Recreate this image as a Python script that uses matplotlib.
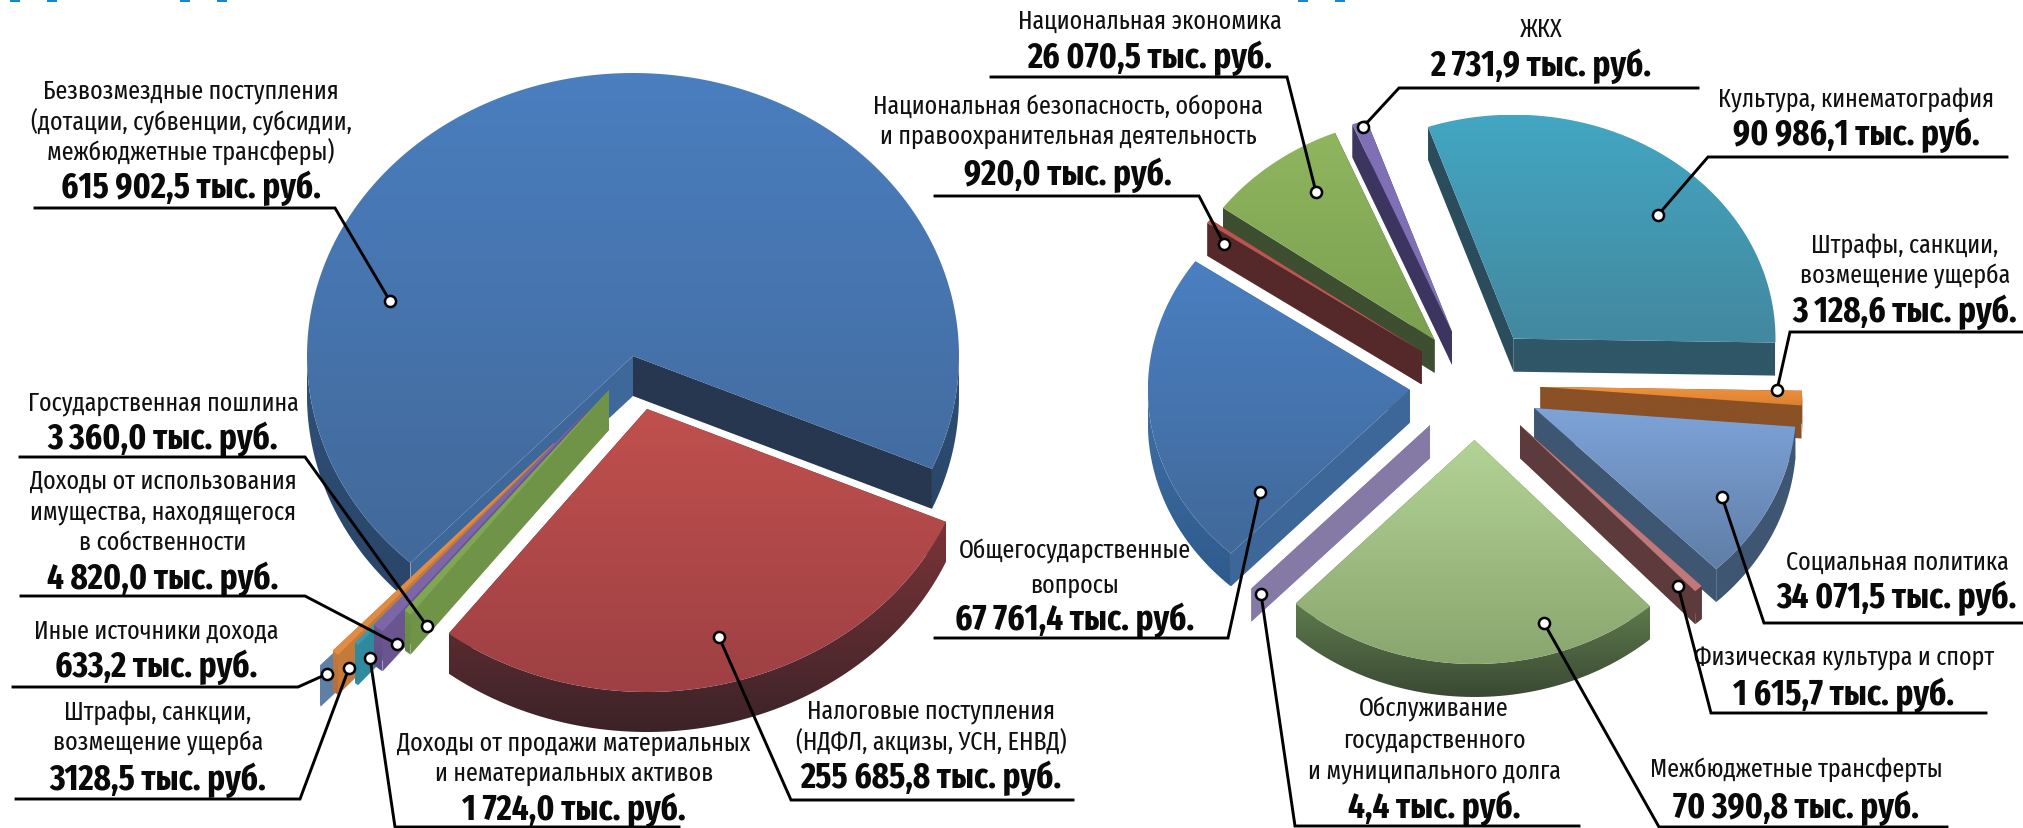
import numpy as np
import matplotlib
matplotlib.use("Agg")
import matplotlib.pyplot as plt
from matplotlib.colors import LinearSegmentedColormap
from matplotlib.patches import Polygon, Rectangle

plt.rcParams["font.family"] = ["Fira Sans Extra Condensed", "PT Sans Narrow", "Roboto", "DejaVu Sans"]

# income pie, counter-clockwise from the big blue slice
income_names = [
    "Безвозмездные поступления\n(дотации, субвенции, субсидии,\nмежбюджетные трансферы)",
    "Иные источники дохода",
    "Штрафы, санкции,\nвозмещение ущерба",
    "Доходы от продажи материальных\nи нематериальных активов",
    "Доходы от использования\nимущества, находящегося\nв собственности",
    "Государственная пошлина",
    "Налоговые поступления\n(НДФЛ, акцизы, УСН, ЕНВД)",
]
income_values = [615902.5, 633.2, 3128.5, 1724.0, 4820.0, 3360.0, 255685.8]
income_labels = [
    "615 902,5 тыс. руб.", "633,2 тыс. руб.", "3128,5 тыс. руб.", "1 724,0 тыс. руб.",
    "4 820,0 тыс. руб.", "3 360,0 тыс. руб.", "255 685,8 тыс. руб.",
]

# expense pie, counter-clockwise from the teal slice
expense_names = [
    "Культура, кинематография",
    "ЖКХ",
    "Национальная экономика",
    "Национальная безопасность, оборона\nи правоохранительная деятельность",
    "Общегосударственные\nвопросы",
    "Обслуживание\nгосударственного\nи муниципального долга",
    "Межбюджетные трансферты",
    "Физическая культура и спорт",
    "Социальная политика",
    "Штрафы, санкции,\nвозмещение ущерба",
]
expense_values = [90986.1, 2731.9, 26070.5, 920.0, 67761.4, 4.4, 70390.8, 1615.7, 34071.5, 3128.6]
expense_labels = [
    "90 986,1 тыс. руб.", "2 731,9 тыс. руб.", "26 070,5 тыс. руб.", "920,0 тыс. руб.",
    "67 761,4 тыс. руб.", "4,4 тыс. руб.", "70 390,8 тыс. руб.", "1 615,7 тыс. руб.",
    "34 071,5 тыс. руб.", "3 128,6 тыс. руб.",
]

# pie geometry in pixels of the 2023x829 picture
LEFT = dict(cx=633, cy=357, rx=326, ry=283, depth=40, start=-23.5)
RIGHT = dict(cx=1475, cy=385, rx=262, ry=224, depth=33, start=-1)
# the left pie pulls each slice out by its own amount, the right one evenly
left_explode = [(0, 0), (-91, 103), (-79, 87), (-62, 75), (-46, 55), (-24, 34), (14, 53)]
right_explode = [0.25] * 10
left_order = [0, 1, 2, 3, 4, 5, 6]
right_order = [0, 1, 2, 3, 4, 9, 8, 5, 7, 6]

# face top, face bottom, wall at start edge, wall at end edge, arc top, arc bottom
left_style = [
    ("#4a7ebf", "#42699a", "#26374f", "#3d6899", "#2f5079", "#2a4568"),
    ("#6a86ab", "#6a86ab", "#5f7fa6", "#5f7fa6", "#5f7fa6", "#5f7fa6"),
    ("#e08c45", "#e08c45", "#c47a3a", "#c47a3a", "#c47a3a", "#b56f34"),
    ("#3b9ab2", "#3b9ab2", "#2f8a9e", "#2f8a9e", "#2f8a9e", "#2f8a9e"),
    ("#7b66a8", "#7b66a8", "#6a5591", "#6a5591", "#6a5591", "#5f4c85"),
    ("#7fa653", "#7fa653", "#6f9447", "#6f9447", "#6f9447", "#668a42"),
    ("#c0504d", "#9e4044", "#5c2c2f", "#5c2c2f", "#7a3438", "#3c2328"),
]
right_style = [
    ("#43a6c2", "#42889f", "#2f5767", "#2b4c5c", "#2b4c5c", "#2b4c5c"),
    ("#7f6fb5", "#7f6fb5", "#3c3560", "#3c3560", "#3c3560", "#3c3560"),
    ("#8fb55f", "#7ba050", "#3e4e30", "#3e4e30", "#3e4e30", "#3e4e30"),
    ("#b95350", "#c0605c", "#55282a", "#55282a", "#55282a", "#55282a"),
    ("#4a7fc1", "#41699a", "#3c6798", "#3c6798", "#3f70a5", "#2f5a8c"),
    ("#8b80a8", "#8b80a8", "#857aa5", "#857aa5", "#857aa5", "#857aa5"),
    ("#b2d395", "#8aa66f", "#5d7a4e", "#5d7a4e", "#5f7a4d", "#3a4a33"),
    ("#c0787a", "#c0787a", "#5d3a3c", "#5d3a3c", "#5d3a3c", "#5d3a3c"),
    ("#7ea3d8", "#5f7ea7", "#3f5673", "#3f5673", "#3f5673", "#3f5673"),
    ("#f0913f", "#d9812f", "#8a5026", "#8a5026", "#8a5026", "#8a5026"),
]

# text centre x, y of each name line, y of the value, underline (x0, x1, y),
# leader end (x, y) on the slice, same order as the data
left_text = [
    (191, [92, 122, 152], 188, (35, 335, 209), (390, 302)),
    (156, [632], 667, (13, 298, 688), (327, 675)),
    (158, [713, 744], 780, (16, 300, 800), (349, 669)),
    (574, [744, 774], 810, (679, 395, 828), (370, 659)),
    (163, [482, 513, 543], 579, (21, 305, 597), (397, 645)),
    (163, [404], 439, (20, 305, 458), (427, 627)),
    (931, [712, 743], 778, (1073, 791, 801), (719, 638)),
]
right_text = [
    (1856, [100], 135, (2007, 1708, 158), (1658, 216)),
    (1541, [30], 66, (1698, 1399, 89), (1363, 128)),
    (1150, [22], 58, (991, 1287, 78), (1316, 193)),
    (1068, [107, 137], 175, (935, 1199, 197), (1224, 245)),
    (1075, [552, 586], 620, (935, 1228, 639), (1260, 493)),
    (1434, [710, 741, 772], 808, (1579, 1295, 827), (1261, 595)),
    (1796, [770], 808, (1947, 1659, 828), (1544, 624)),
    (1844, [659], 695, (1986, 1711, 714), (1678, 587)),
    (1897, [563], 598, (2023, 1764, 624), (1722, 498)),
    (1905, [246, 276], 312, (2023, 1790, 333), (1777, 391)),
]

fig = plt.figure(figsize=(20.23, 8.29), dpi=100)
ax = fig.add_axes([0, 0, 1, 1])
ax.set_xlim(0, 2023)
ax.set_ylim(829, 0)
ax.axis("off")


def fill_grad(points, top, bottom, z):
    points = np.asarray(points)
    x0, x1 = points[:, 0].min(), points[:, 0].max()
    y0, y1 = points[:, 1].min(), points[:, 1].max()
    if y1 - y0 < 0.01:
        return
    cmap = LinearSegmentedColormap.from_list("g", [top, bottom])
    grad = np.linspace(0, 1, 64).reshape(-1, 1)
    im = ax.imshow(grad, cmap=cmap, extent=(x0, x1, y1, y0), aspect="auto", zorder=z,
                   interpolation="bilinear")
    poly = Polygon(points, closed=True, facecolor="none", edgecolor="none", transform=ax.transData)
    ax.add_patch(poly)
    im.set_clip_path(poly)


def draw_pie(values, geo, explode, order, styles):
    values = np.array(values)
    sweeps = values / values.sum() * 360
    ends = geo["start"] + np.cumsum(sweeps)
    starts = ends - sweeps
    rx, ry, d = geo["rx"], geo["ry"], geo["depth"]

    def rim(t):
        t = np.radians(t)
        return np.column_stack([rx * np.cos(t), -ry * np.sin(t)])

    z = 2
    for i in order:
        t0, t1 = starts[i], ends[i]
        if isinstance(explode[i], tuple):
            pull = np.array(explode[i], dtype=float)
        else:
            pull = explode[i] * rim([(t0 + t1) / 2])[0]
        apex = np.array([geo["cx"], geo["cy"]]) + pull
        face_top, face_bot, wall0, wall1, arc_top, arc_bot = styles[i]
        down = np.array([0, d])

        for t, col in ((t0, wall0), (t1, wall1)):
            p = apex + rim([t])[0]
            fill_grad([apex, p, p + down, apex + down], col, col, z)
            z += 0.01

        # outer wall only where the rim faces the viewer
        for k in (-1, 0, 1):
            a = max(t0, 180 + 360 * k)
            b = min(t1, 360 + 360 * k)
            if b > a:
                arc = apex + rim(np.linspace(a, b, 80))
                fill_grad(np.vstack([arc, arc[::-1] + down]), arc_top, arc_bot, z)
                z += 0.01

        pts = np.vstack([apex, apex + rim(np.linspace(t0, t1, 240))])
        fill_grad(pts, face_top, face_bot, z)
        z += 0.01


def draw_labels(names, labels, layout):
    for name, label, (cx, ys, vy, (x0, x1, uy), dot) in zip(names, labels, layout):
        for line, y in zip(name.split("\n"), ys):
            ax.text(cx, y, line, ha="center", va="center", fontsize=18.8, color="#111111", zorder=20)
        ax.text(cx, vy, label, ha="center", va="center", fontsize=25.7, fontweight="bold",
                color="#0a0a0a", zorder=20)
        ax.plot([x0, x1, dot[0]], [uy, uy, dot[1]], color="black", lw=2.1, zorder=21,
                solid_joinstyle="miter")
        ax.plot(dot[0], dot[1], "o", ms=8, mfc="white", mec="black", mew=1.8, zorder=22)


draw_pie(income_values, LEFT, left_explode, left_order, left_style)
draw_pie(expense_values, RIGHT, right_explode, right_order, right_style)
draw_labels(income_names, income_labels, left_text)
draw_labels(expense_names, expense_labels, right_text)

# feet of the cut-off heading letters along the top edge
for x in (10, 47, 180, 217, 1298, 1335):
    ax.add_patch(Rectangle((x, 0), 10, 3, facecolor="#1a86c8", edgecolor="none", zorder=5))

ax.set_xlim(0, 2023)
ax.set_ylim(829, 0)
fig.savefig("out.png", dpi=100, facecolor="white")
